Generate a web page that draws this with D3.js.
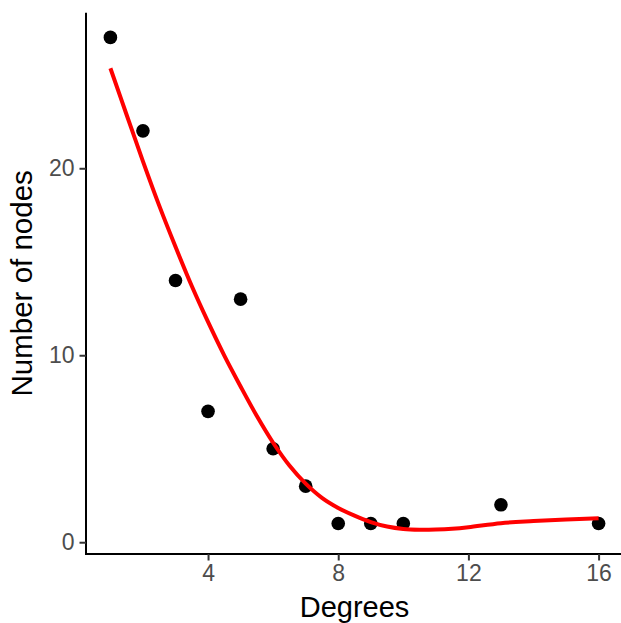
<!DOCTYPE html>
<html>
<head>
<meta charset="utf-8">
<script src="https://cdn.jsdelivr.net/npm/d3@7/dist/d3.min.js"></script>
<style>
  html, body { margin: 0; padding: 0; background: #ffffff; }
  svg { display: block; font-family: "Liberation Sans", Arial, sans-serif; }
</style>
</head>
<body>
<svg id="chart" width="621" height="623"></svg>
<script>
// Observed degree distribution
const degrees = [1, 2, 3, 4, 5, 6, 7, 8, 9, 10, 13, 16];
const nodeCounts = [27, 22, 14, 7, 13, 5, 3, 1, 1, 1, 2, 1];

// Smoothed trend through the distribution
const smoothX = [1, 1.5, 2, 2.5, 3, 3.5, 4, 4.5, 5, 5.5, 6, 6.5, 7, 7.5, 8, 8.5, 9, 9.5, 10, 10.5, 11, 11.5, 12, 13, 14, 15, 16];
const smoothY = [25.35, 22.85, 20.37, 18.0, 15.8, 13.7, 11.78, 9.98, 8.33, 6.75, 5.32, 4.1, 3.13, 2.37, 1.83, 1.42, 1.08, 0.84, 0.71, 0.67, 0.68, 0.72, 0.8, 1.02, 1.13, 1.22, 1.28];

// Axis ticks and titles
const xTicks = [4, 8, 12, 16];
const yTicks = [0, 10, 20];
const xTitle = "Degrees";
const yTitle = "Number of nodes";

const svg = d3.select("#chart");
const panel = { left: 86, right: 623, top: 12.7, bottom: 554 };

const x = d3.scaleLinear().domain([0.25, 16.75]).range([panel.left, panel.right]);
const y = d3.scaleLinear().domain([-0.63, 28.32]).range([panel.bottom, panel.top]);

// Axes (classic theme: axis lines, no grid)
const xAxis = d3.axisBottom(x).tickValues(xTicks).tickSize(6.5).tickPadding(4).tickSizeOuter(0);
const yAxis = d3.axisLeft(y).tickValues(yTicks).tickSize(6.5).tickPadding(5).tickSizeOuter(0);

const gx = svg.append("g").attr("transform", `translate(0,${panel.bottom})`).call(xAxis);
const gy = svg.append("g").attr("transform", `translate(${panel.left},0)`).call(yAxis);

[gx, gy].forEach(g => {
  g.select(".domain").attr("stroke", "#000").attr("stroke-width", 2);
  g.selectAll(".tick line").attr("stroke", "#333333").attr("stroke-width", 2);
  g.selectAll(".tick text")
    .attr("fill", "#4D4D4D")
    .attr("font-size", "23px")
    .attr("font-family", "Liberation Sans, Arial, sans-serif");
});
// extend axis lines to meet at the corner
gx.select(".domain").attr("d", `M${panel.left - 1},0H${panel.right}`);
gy.select(".domain").attr("d", `M0,${panel.top}V${panel.bottom + 1}`);

// Points
svg.append("g")
  .selectAll("circle")
  .data(degrees.map((d, i) => [d, nodeCounts[i]]))
  .join("circle")
  .attr("cx", d => x(d[0]))
  .attr("cy", d => y(d[1]))
  .attr("r", 6.8)
  .attr("fill", "#000");

// Smooth line
const line = d3.line()
  .x(d => x(d[0]))
  .y(d => y(d[1]))
  .curve(d3.curveCatmullRom.alpha(0.5));

svg.append("path")
  .datum(smoothX.map((d, i) => [d, smoothY[i]]))
  .attr("d", line)
  .attr("fill", "none")
  .attr("stroke", "#FF0000")
  .attr("stroke-width", 4);

// Axis titles
svg.append("text")
  .attr("x", (panel.left + panel.right) / 2)
  .attr("y", 617)
  .attr("text-anchor", "middle")
  .attr("font-size", "29px")
  .attr("fill", "#000")
  .text(xTitle);

svg.append("text")
  .attr("transform", `translate(32,${(panel.top + panel.bottom) / 2}) rotate(-90)`)
  .attr("text-anchor", "middle")
  .attr("font-size", "29.5px")
  .attr("fill", "#000")
  .text(yTitle);
</script>
</body>
</html>
